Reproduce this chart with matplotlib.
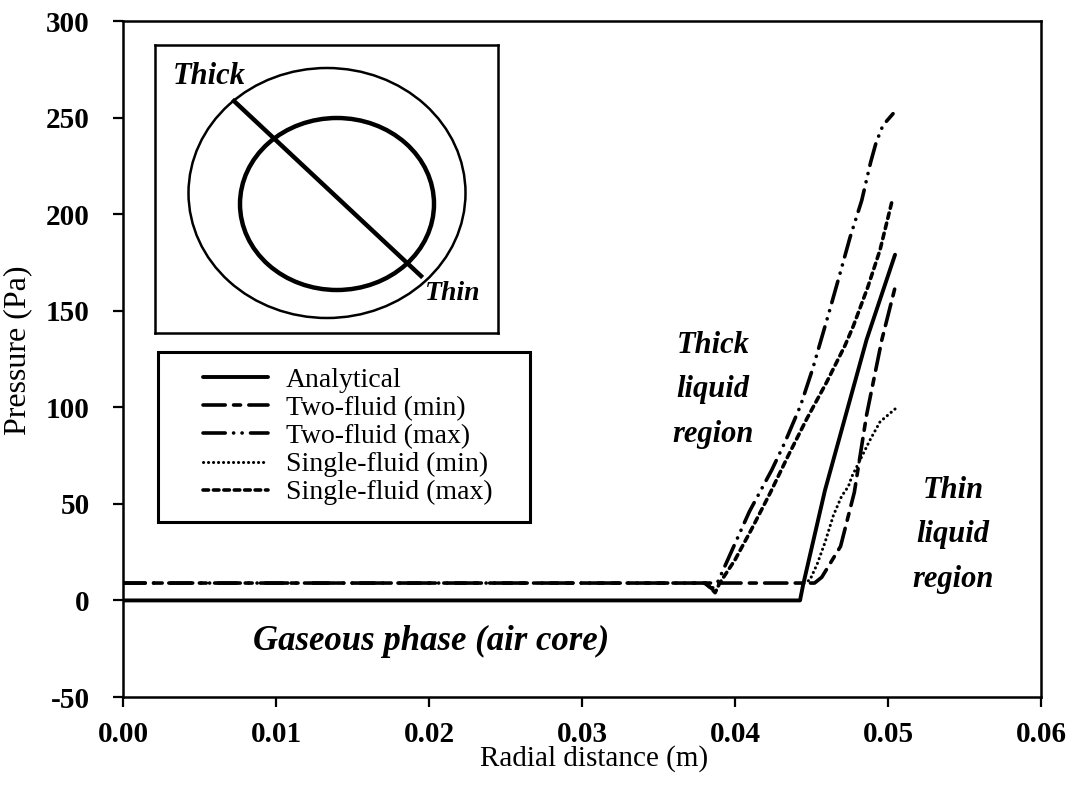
import matplotlib
matplotlib.use('Agg')
import matplotlib.pyplot as plt
from matplotlib.patches import Ellipse, Rectangle

plt.rcParams['font.family'] = 'serif'
plt.rcParams['font.serif'] = ['Liberation Serif', 'DejaVu Serif']
plt.rcParams['lines.scale_dashes'] = False

# 解析解
x_analytical = [0.0, 0.04425, 0.04445, 0.04588, 0.0486, 0.05046]
p_analytical = [0, 0, 8, 57, 135, 179]

# 双流体 (最小)
x_two_min = [0.0, 0.0452, 0.04567, 0.0469, 0.0478, 0.0486, 0.0496, 0.05046]
p_two_min = [9, 9, 12, 28, 56, 96, 135, 162]

# 双流体 (最大)
x_two_max = [0.0, 0.0380, 0.0385, 0.0389, 0.04094, 0.0424, 0.04327, 0.04429,
             0.04508, 0.04616, 0.04682, 0.04752, 0.04828, 0.04887, 0.04922, 0.04967, 0.05033]
p_two_max = [9, 9, 6, 10, 46, 67.5, 82, 101, 120, 149.5, 168, 188, 207, 227, 237, 246, 252]

# 单流体 (最小)
x_single_min = [0.0445, 0.0449, 0.04538, 0.04588, 0.04643, 0.04697, 0.04741,
                0.04763, 0.04882, 0.04948, 0.05052]
p_single_min = [9, 10.6, 19, 30, 44, 54, 59, 64, 83, 92.5, 99.5]

# 单流体 (最大)
x_single_max = [0.0381, 0.0387, 0.0390, 0.0400, 0.04109, 0.04229, 0.04348, 0.04469,
                0.04599, 0.04719, 0.04773, 0.04867, 0.04948, 0.05024]
p_single_max = [9, 4, 9, 21, 37, 55.5, 75, 94, 113, 132, 142, 162, 181.5, 206]

x_ticks = [0.00, 0.01, 0.02, 0.03, 0.04, 0.05, 0.06]
y_ticks = [-50, 0, 50, 100, 150, 200, 250, 300]

fig = plt.figure(figsize=(10.74, 7.89), dpi=100)
ax = fig.add_axes([123 / 1074, 92 / 789, 918 / 1074, 676 / 789])

ax.plot(x_analytical, p_analytical, color='black', lw=2.8, label='Analytical',
        solid_capstyle='round')
ax.plot(x_two_min, p_two_min, color='black', lw=2.6, dashes=(16, 6, 5, 6),
        dash_capstyle='round', label='Two-fluid (min)')
ax.plot(x_two_max, p_two_max, color='black', lw=2.6, dashes=(16, 6, 0.1, 6, 0.1, 6),
        dash_capstyle='round', label='Two-fluid (max)')
ax.plot(x_single_min, p_single_min, color='black', lw=2.2, dashes=(0.1, 3.5),
        dash_capstyle='round', label='Single-fluid (min)')
ax.plot(x_single_max, p_single_max, color='black', lw=2.6, dashes=(4, 3.5),
        dash_capstyle='round', label='Single-fluid (max)')

ax.set_xlim(0, 0.06)
ax.set_ylim(-50, 300)
ax.set_xticks(x_ticks)
ax.set_yticks(y_ticks)
ax.set_xticklabels([f'{v:.2f}' for v in x_ticks], fontsize=21, fontweight='bold')
ax.set_yticklabels([str(v) for v in y_ticks], fontsize=21, fontweight='bold')
ax.tick_params(direction='out', length=7, width=1.6, top=False, right=False)
ax.tick_params(axis='x', pad=10)
ax.tick_params(axis='y', pad=17)
for s in ax.spines.values():
    s.set_linewidth(1.8)
ax.set_xlabel('Radial distance (m)', fontsize=21)
ax.set_ylabel('Pressure (Pa)', fontsize=23)
ax.xaxis.set_label_coords(0.513, -0.071)
ax.yaxis.set_label_coords(-0.099, 0.513)

txt_style = dict(fontsize=22, fontweight='bold', fontstyle='italic', ha='center',
                 va='center', linespacing=1.7)
ax.text(0.03856, 109, 'Thick\nliquid\nregion', **txt_style)
ax.text(0.05425, 34, 'Thin\nliquid\nregion', **txt_style)
ax.text(0.02013, -21.5, 'Gaseous phase (air core)', fontsize=25, fontweight='bold',
        fontstyle='italic', ha='center', va='center')

# 图例 (手动画框)
ax.add_patch(Rectangle((0.0381, 0.259), 0.4053, 0.251, transform=ax.transAxes,
                       fill=False, lw=2.2, edgecolor='black', zorder=5))
ax.legend(loc='upper left', bbox_to_anchor=(0.087, 0.488), frameon=False,
          fontsize=20, handlelength=2.35, handletextpad=0.65, labelspacing=0.1,
          borderpad=0, borderaxespad=0)

# 插图：偏心液膜示意
ins = fig.add_axes([155 / 1074, (789 - 333) / 789, 343 / 1074, 288 / 789])
ins.set_xlim(0, 343)
ins.set_ylim(288, 0)
ins.set_xticks([])
ins.set_yticks([])
for s in ins.spines.values():
    s.set_linewidth(1.8)
ins.add_patch(Ellipse((172, 148), 277, 250, fill=False, lw=1.8, edgecolor='black'))
ins.add_patch(Ellipse((182, 159), 194, 172, fill=False, lw=3.2, edgecolor='black'))
ins.plot([79, 266], [56, 231], color='black', lw=3.2)
ins.text(18, 32, 'Thick', fontsize=22, fontweight='bold', fontstyle='italic',
         ha='left', va='center')
ins.text(270, 248, 'Thin', fontsize=20, fontweight='bold', fontstyle='italic',
         ha='left', va='center')

fig.savefig('out.png', dpi=100)
plt.close(fig)
